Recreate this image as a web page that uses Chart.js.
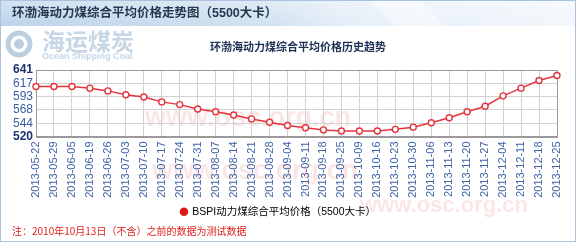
<!DOCTYPE html>
<html><head><meta charset="utf-8">
<script src="https://cdn.jsdelivr.net/npm/chart.js@4.4.1/dist/chart.umd.min.js"></script>
<style>html,body{margin:0;padding:0;background:#fff}#wrap{width:576px;height:243px;position:relative}</style>
</head><body><div id="wrap"><canvas id="c" width="576" height="243"></canvas></div>
<script>
const categories = ['2013-05-22','2013-05-29','2013-06-05','2013-06-19','2013-06-26','2013-07-03','2013-07-10','2013-07-17','2013-07-24','2013-07-31','2013-08-07','2013-08-14','2013-08-21','2013-08-28','2013-09-04','2013-09-11','2013-09-18','2013-09-25','2013-10-09','2013-10-16','2013-10-23','2013-10-30','2013-11-06','2013-11-13','2013-11-20','2013-11-27','2013-12-04','2013-12-11','2013-12-18','2013-12-25'];
const bspiValues = [611,611,611,608,603,596,592,583,578,570,565,559,552,546,540,536,532,530,530,530,533,537,545,554,565,575,594,608,622,631];
const yTickValues = [520,544.2,568.4,592.6,616.8,641];
const yTickLabels = ['520','544','568','593','617','641'];
const titleText = '环渤海动力煤综合平均价格走势图（5500大卡）';
const subtitleText = '环渤海动力煤综合平均价格历史趋势';
const seriesName = 'BSPI动力煤综合平均价格（5500大卡）';
const noteText = '注：2010年10月13日（不含）之前的数据为测试数据';
const logoCn = '海运煤炭';
const logoEn = 'Ocean Shipping Coal';
const watermarkText = 'www.osc.org.cn';

const FONT = '"Liberation Sans", "Noto Sans CJK SC", sans-serif';

const decor = {
  id: 'decor',
  beforeDraw(chart) {
    const ctx = chart.ctx, W = chart.width, H = chart.height;
    ctx.save();
    ctx.fillStyle = '#fff'; ctx.fillRect(0,0,W,H);
    const g = ctx.createLinearGradient(0,0,W,0);
    g.addColorStop(0,'#bcd4ea'); g.addColorStop(0.45,'#cfe0f0'); g.addColorStop(0.6,'#e4eef8'); g.addColorStop(1,'#f2f7fc');
    ctx.fillStyle = g; ctx.fillRect(0,0,W,26);
    const g2 = ctx.createLinearGradient(0,0,0,26);
    g2.addColorStop(0,'rgba(255,255,255,0.35)'); g2.addColorStop(1,'rgba(255,255,255,0)');
    ctx.fillStyle = g2; ctx.fillRect(0,0,W,26);
    ctx.fillStyle = 'rgba(255,255,255,0.45)';
    ctx.beginPath(); ctx.moveTo(370,0); ctx.lineTo(420,0); ctx.lineTo(445,26); ctx.lineTo(395,26); ctx.closePath(); ctx.fill();
    ctx.strokeStyle = '#a9c3de'; ctx.lineWidth = 1;
    ctx.strokeRect(0.5,0.5,W-1,H-2);
    ctx.fillStyle = '#26384f';
    ctx.font = 'bold 12.5px ' + FONT; ctx.textBaseline = 'middle'; ctx.textAlign = 'left';
    ctx.fillText(titleText, 12, 14);
    ctx.strokeStyle = '#bccfe0'; ctx.lineWidth = 5;
    ctx.beginPath(); ctx.arc(19,44,11,0,Math.PI*2); ctx.stroke();
    ctx.fillStyle = '#bccfe0';
    ctx.beginPath(); ctx.arc(19,44,5,0,Math.PI*2); ctx.fill();
    ctx.font = 'bold 23px "Noto Sans CJK SC", sans-serif';
    ctx.fillStyle = '#c6d6e5';
    ctx.fillText(logoCn, 42, 41);
    ctx.font = 'bold 9px ' + FONT;
    ctx.fillText(logoEn, 42, 57);
    ctx.font = 'bold 11px "Noto Sans CJK SC", sans-serif';
    ctx.fillStyle = '#1d3055';
    ctx.fillText(subtitleText, 210, 47);
    ctx.fillStyle = 'rgba(225,90,90,0.15)';
    ctx.font = 'bold 27px ' + FONT;
    ctx.fillText(watermarkText, 145, 119);
    ctx.fillText(watermarkText, 152, 172);
    ctx.font = 'bold 22px ' + FONT;
    ctx.fillText(watermarkText, 360, 206);
    ctx.font = '10px "Noto Sans CJK SC", sans-serif';
    ctx.fillStyle = '#e0201c';
    ctx.fillText(noteText, 12, 231);
    ctx.restore();
  },
  beforeDatasetsDraw(chart) {
    const {ctx, chartArea:a} = chart;
    ctx.save(); ctx.strokeStyle = '#9a9a9a'; ctx.lineWidth = 1;
    ctx.strokeRect(Math.round(a.left)+0.5, Math.round(a.top)+0.5, Math.round(a.right-a.left), Math.round(a.bottom-a.top));
    ctx.restore();
  }
};

new Chart(document.getElementById('c'), {
  type: 'line',
  data: { labels: categories, datasets: [{
    label: seriesName, data: bspiValues,
    borderColor: '#e5343e', borderWidth: 1.5, tension: 0,
    pointRadius: 3, pointHoverRadius: 3, pointBorderWidth: 1.4,
    pointBackgroundColor: '#fff', pointBorderColor: '#e5343e'
  }]},
  options: {
    responsive: false, animation: false, devicePixelRatio: 1,
    layout: { padding: { left: 0, right: 19, top: 70, bottom: 16 } },
    plugins: {
      tooltip: { enabled: false },
      legend: { position: 'bottom',
        labels: { usePointStyle: true, boxWidth: 6, boxHeight: 6, padding: 5,
          color: '#34507a', font: { size: 10.5, family: FONT },
          generateLabels: (chart) => [{ text: seriesName, fillStyle: '#e01818', strokeStyle: '#e01818', lineWidth: 0, pointStyle: 'circle', datasetIndex: 0, hidden: false }]
        } }
    },
    scales: {
      x: { grid: { color: '#d2d2d2', drawTicks: false }, border: { color: '#9a9a9a' },
        afterFit: (s) => { s.height = 65; },
        ticks: { autoSkip: false, maxRotation: 90, minRotation: 90, padding: 5, color: '#4063a6', font: { size: 11, family: FONT } } },
      y: { min: 520, max: 641, grid: { color: '#d2d2d2', drawTicks: false }, border: { color: '#9a9a9a' },
        afterBuildTicks: (s) => { s.ticks = yTickValues.map(v => ({ value: v })); },
        afterFit: (s) => { s.width = 36; },
        ticks: { autoSkip: false, padding: 3,
          callback: (v, i) => yTickLabels[i],
          color: (c) => (c.index === 0 || c.index === 5) ? '#1b3372' : '#3a5ea6',
          font: (c) => ({ size: 12, weight: (c.index === 0 || c.index === 5) ? 'bold' : 'normal', family: FONT }) } }
    }
  },
  plugins: [decor]
});
</script></body></html>
